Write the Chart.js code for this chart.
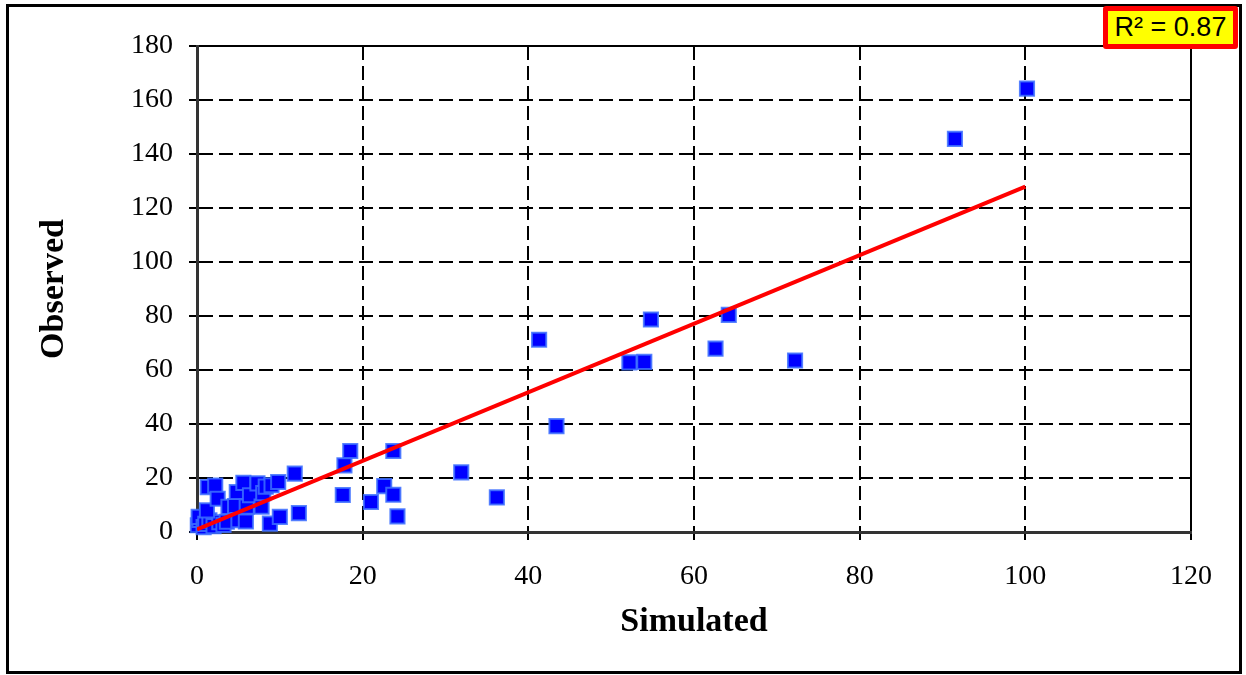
<!DOCTYPE html>
<html>
<head>
<meta charset="utf-8">
<script src="https://cdn.jsdelivr.net/npm/chart.js@4/dist/chart.umd.min.js"></script>
<style>
    body { margin: 0; background: #fff; }
    #wrap { position: relative; width: 1246px; height: 675px; }
    #frame {
        position: absolute; left: 6px; top: 4px; width: 1236px; height: 670px;
        border: 3px solid #000; box-sizing: border-box; pointer-events: none;
    }
    #r2 {
        position: absolute; left: 1103px; top: 6px; width: 135px; height: 43px;
        box-sizing: border-box; border: 5px solid #ff0000; border-radius: 3px;
        background: #ffff00; color: #000;
        font-family: "Liberation Sans", Arial, sans-serif; font-size: 27px;
        display: flex; align-items: center; justify-content: center;
    }
</style>
</head>
<body>
<div id="wrap">
    <canvas id="chart" width="1246" height="675"></canvas>
    <div id="frame"></div>
    <div id="r2">R² = 0.87</div>
</div>
<script>
const simulated = [0.1, 0.3, 0.2, 0.8, 1.0, 1.5, 2.0, 2.7, 3.2, 3.6,
    1.2, 1.3, 2.2, 2.5, 3.8, 4.6, 4.8, 5.0, 5.6, 5.9,
    6.0, 6.4, 7.3, 7.8, 8.0, 8.3, 8.8, 9.0, 9.8, 10.0,
    11.8, 12.3, 17.6, 17.8, 18.5, 21.0, 22.6, 23.7, 23.7, 24.2,
    31.9, 36.2, 41.3, 43.4, 52.2, 54.0, 54.8, 62.6, 64.2, 72.2,
    91.5, 100.2];
const observed = [2.5, 4.5, 5.6, 1.8, 3.0, 4.3, 2.2, 3.6, 2.6, 3.8,
    8.0, 16.6, 17.2, 12.3, 9.3, 9.6, 14.8, 4.4, 18.2, 3.9,
    9.4, 13.6, 18.0, 9.4, 14.4, 16.8, 3.1, 17.3, 18.5, 5.6,
    21.6, 7.0, 13.7, 24.7, 30.0, 11.1, 17.0, 13.8, 30.0, 5.8,
    22.1, 12.8, 71.2, 39.2, 62.8, 63.0, 78.7, 67.9, 80.4, 63.5,
    145.6, 164.2];

// Trend line end points
const trendX = [0, 100];
const trendY = [1.0, 127.9];

const xMax = 120;
const yMax = 180;

const tickFont = { family: '"Liberation Serif", "Times New Roman", serif', size: 28 };
const titleFont = { family: '"Liberation Serif", "Times New Roman", serif', size: 34, weight: 'bold' };

const points = simulated.map((x, i) => ({ x: x, y: observed[i] }));
const trend = trendX.map((x, i) => ({ x: x, y: trendY[i] }));

const ctx = document.getElementById('chart').getContext('2d');
new Chart(ctx, {
    type: 'scatter',
    data: {
        datasets: [
            {
                label: 'Trend',
                data: trend,
                showLine: true,
                borderColor: '#ff0000',
                borderWidth: 4,
                pointRadius: 0,
                order: 0
            },
            {
                label: 'Observed',
                data: points,
                pointStyle: 'rect',
                pointRadius: 10,
                pointHoverRadius: 10,
                backgroundColor: '#0000ff',
                borderColor: 'rgba(60, 110, 255, 0.85)',
                borderWidth: 2,
                clip: false,
                order: 1
            }
        ]
    },
    options: {
        responsive: false,
        animation: false,
        layout: {
            padding: { left: 0, right: 55, top: 46, bottom: 0 }
        },
        plugins: {
            legend: { display: false },
            tooltip: { enabled: false }
        },
        scales: {
            x: {
                type: 'linear',
                min: 0,
                max: xMax,
                afterFit: scale => { scale.height = 143; },
                ticks: {
                    stepSize: 20,
                    color: '#000',
                    font: tickFont,
                    padding: 20
                },
                grid: {
                    color: '#000',
                    lineWidth: 2,
                    tickLength: 8,
                    tickColor: '#000',
                    tickWidth: 2,
                    tickBorderDash: []
                },
                border: {
                    color: '#333',
                    width: 3,
                    dash: c => (c.tick && c.tick.value === xMax ? [] : [14, 6])
                },
                title: {
                    display: true,
                    text: 'Simulated',
                    color: '#000',
                    font: titleFont,
                    padding: { top: 0, bottom: 32 }
                }
            },
            y: {
                type: 'linear',
                min: 0,
                max: yMax,
                afterFit: scale => { scale.width = 197; },
                ticks: {
                    stepSize: 20,
                    color: '#000',
                    font: tickFont,
                    padding: 16
                },
                grid: {
                    color: '#000',
                    lineWidth: 2,
                    tickLength: 8,
                    tickColor: '#000',
                    tickWidth: 2,
                    tickBorderDash: []
                },
                border: {
                    color: '#333',
                    width: 3,
                    dash: c => (c.tick && c.tick.value === yMax ? [] : [14, 6])
                },
                title: {
                    display: true,
                    text: 'Observed',
                    color: '#000',
                    font: titleFont,
                    padding: { top: 34, bottom: 0 }
                }
            }
        }
    }
});
</script>
</body>
</html>
